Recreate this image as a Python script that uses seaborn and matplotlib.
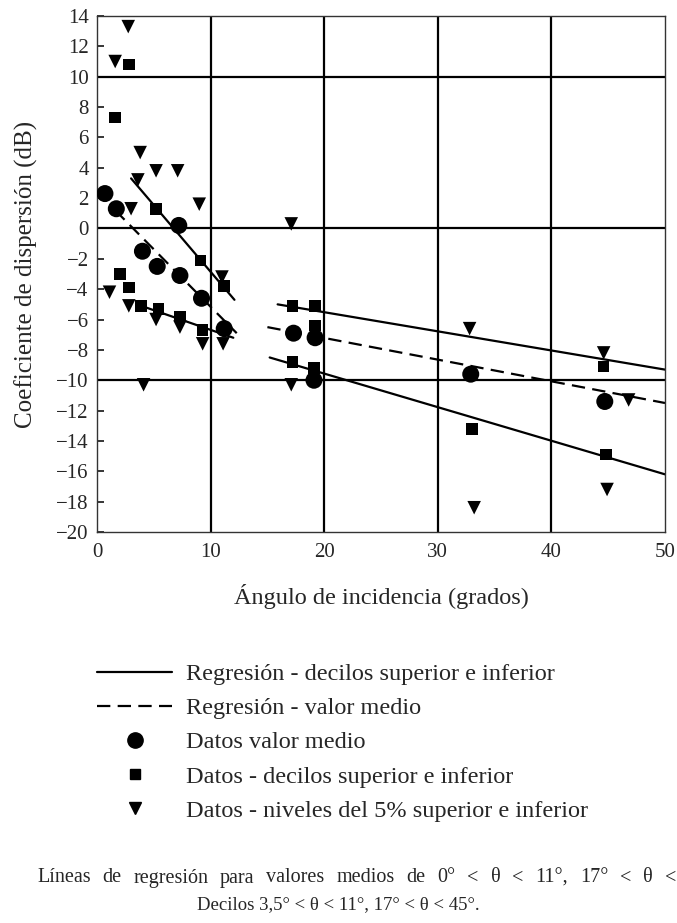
import matplotlib
matplotlib.use("Agg")
import matplotlib.pyplot as plt
import seaborn as sns
import pandas as pd
from matplotlib.lines import Line2D

# Data
# mean values (circles)
mean_x = [0.7, 1.7, 4.0, 5.3, 7.2, 7.3, 9.2, 11.2, 17.3, 19.2, 19.1, 32.9, 44.7]
mean_y = [2.3, 1.3, -1.5, -2.5, 0.2, -3.1, -4.6, -6.6, -6.9, -7.2, -10.0, -9.6, -11.4]

# upper and lower deciles (squares)
dec_x = [1.6, 2.8, 5.2, 9.1, 2.0, 2.8, 11.2, 3.9, 5.4, 7.3, 9.3,
         17.2, 19.2, 19.2, 17.2, 19.1, 44.6, 33.0, 44.8]
dec_y = [7.3, 10.8, 1.3, -2.1, -3.0, -3.9, -3.8, -5.1, -5.3, -5.8, -6.7,
         -5.1, -5.1, -6.4, -8.8, -9.2, -9.1, -13.2, -14.9]

# upper and lower 5% levels (triangles)
p5_x = [2.75, 1.6, 3.8, 5.2, 7.1, 3.6, 3.0, 9.0, 11.0, 1.1, 2.8, 5.2, 7.3,
        9.3, 11.1, 4.1, 17.1, 17.1, 32.8, 44.6, 46.8, 33.2, 44.9]
p5_y = [13.3, 11.0, 5.0, 3.8, 3.8, 3.2, 1.3, 1.6, -3.2, -4.2, -5.1, -6.0, -6.5,
        -7.6, -7.6, -10.3, 0.3, -10.3, -6.6, -8.2, -11.3, -18.4, -17.2]

# regression segments: (x start, x end), (y start, y end)
reg_dec_x = [(3.0, 12.1), (3.9, 12.0), (15.9, 50.0), (15.2, 50.0)]
reg_dec_y = [(3.3, -4.7), (-5.1, -7.2), (-5.0, -9.3), (-8.5, -16.2)]
reg_mean_x = [(1.6, 12.3), (15.0, 50.0)]
reg_mean_y = [(1.2, -6.9), (-6.5, -11.5)]

grid_x = [10, 20, 30, 40]
grid_y = [-10, 0, 10]

labels = ["Regresión - decilos superior e inferior",
          "Regresión - valor medio",
          "Datos valor medio",
          "Datos - decilos superior e inferior",
          "Datos - niveles del 5% superior e inferior"]

caption_1 = "Líneas de regresión para valores medios de 0° < θ < 11°, 17° < θ < 45°."
caption_2 = "Decilos 3,5° < θ < 11°, 17° < θ < 45°."

sns.set_style("white")
plt.rcParams['font.family'] = ['Liberation Serif', 'DejaVu Serif']
plt.rcParams['axes.unicode_minus'] = True

fig = plt.figure(figsize=(6.77, 9.23), dpi=100)
ax = fig.add_axes([97 / 677, 1 - 532 / 923, 568 / 677, 516 / 923])

for gx in grid_x:
    ax.axvline(gx, color="black", lw=1.6, zorder=1)
for gy in grid_y:
    ax.axhline(gy, color="black", lw=1.6, zorder=1)

dash = (0, (6, 3.3))
for xs, ys in zip(reg_dec_x, reg_dec_y):
    seg = pd.DataFrame({"x": xs, "y": ys})
    sns.lineplot(data=seg, x="x", y="y", ax=ax, color="black", lw=1.6,
                 estimator=None, sort=False, zorder=2)
for xs, ys in zip(reg_mean_x, reg_mean_y):
    seg = pd.DataFrame({"x": xs, "y": ys})
    sns.lineplot(data=seg, x="x", y="y", ax=ax, color="black", lw=1.6,
                 estimator=None, sort=False, zorder=2, linestyle=dash)

sns.scatterplot(x=p5_x, y=p5_y, ax=ax, marker="v", s=95, color="black",
                edgecolor="none", zorder=3)
sns.scatterplot(x=dec_x, y=dec_y, ax=ax, marker="s", s=70, color="black",
                edgecolor="none", zorder=3)
sns.scatterplot(x=mean_x, y=mean_y, ax=ax, marker="o", s=150, color="black",
                edgecolor="none", zorder=4)

ax.set_xlim(0, 50)
ax.set_ylim(-20, 14)
ax.set_xticks(range(0, 51, 10))
ax.set_yticks(range(-20, 15, 2))
ax.tick_params(axis="x", length=0, labelsize=15, pad=8)
ax.tick_params(axis="y", direction="in", length=5, width=1.3, labelsize=15,
               pad=6, left=True)
for sp in ax.spines.values():
    sp.set_color("#333333")
    sp.set_linewidth(1.0)

ax.set_xlabel("Ángulo de incidencia (grados)", fontsize=17.5, labelpad=16)
ax.set_ylabel("Coeficiente de dispersión (dB)", fontsize=18, labelpad=13)

handles = [Line2D([], [], color="black", lw=1.6),
           Line2D([], [], color="black", lw=1.6, linestyle=dash),
           Line2D([], [], color="black", marker="o", ls="none", ms=11),
           Line2D([], [], color="black", marker="s", ls="none", ms=7.5),
           Line2D([], [], color="black", marker="v", ls="none", ms=8.5)]
fig.legend(handles, labels, loc="upper left",
           bbox_to_anchor=(97 / 677, 1 - 663 / 923), frameon=False,
           fontsize=17.5, handlelength=3.1, handletextpad=0.55,
           labelspacing=0.5, borderpad=0, borderaxespad=0)

# first caption line is justified and runs off the right edge, as in the reference
words = caption_1.split(" ")
renderer = fig.canvas.get_renderer()
texts = [fig.text(0, 1 - 878 / 923, w, ha="left", va="center", fontsize=14.5)
         for w in words]
widths = [t.get_window_extent(renderer).width for t in texts]
n_fit = len(words) - 1
left_px, right_px = 37, 676
gap = (right_px - left_px - sum(widths[:n_fit])) / (n_fit - 1)
pos = left_px
for t, w in zip(texts, widths):
    t.set_x(pos / 677)
    pos += w + gap

fig.text(0.5, 1 - 905 / 923, caption_2, ha="center", va="center", fontsize=13.5)

fig.savefig("out.png", dpi=100)
